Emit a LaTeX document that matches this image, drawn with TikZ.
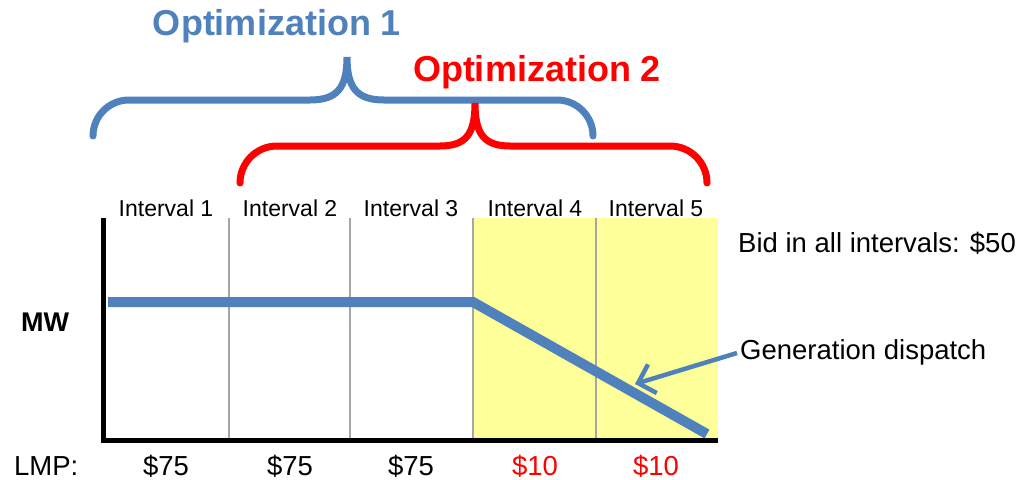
\documentclass[tikz,border=0pt]{standalone}
\usepackage{fontspec}
\setmainfont{Liberation Sans}
\usetikzlibrary{arrows.meta}
\definecolor{oblue}{HTML}{4F81BD}
\definecolor{ored}{HTML}{FF0000}
\definecolor{oyellow}{HTML}{FFFF99}
\definecolor{ogrey}{HTML}{A6A6A6}
\tikzset{
  lbl/.style={inner sep=0pt, font=\fontsize{23}{25}\selectfont},
  big/.style={inner sep=0pt, font=\fontsize{27.5}{30}\selectfont},
  title/.style={inner sep=0pt, font=\fontsize{36}{40}\selectfont\bfseries},
  brace/.style={line width=7pt, line cap=round},
  grid/.style={ogrey, line width=1.5pt},
}
\begin{document}
\begin{tikzpicture}[x=1pt,y=-1pt]
\useasboundingbox (0,0) rectangle (1016,479);
% shaded region
\fill[oyellow] (473,218) rectangle (718,440);
% interval separators
\foreach \x/\n in {229/a,350/b,473/c,596/d}
  \draw[grid] (\x,218) coordinate (\n top) -- (\x,440) coordinate (\n bot);
% axes
\coordinate (otop) at (103,218);
\coordinate (orig) at (103,442.5);
\coordinate (xstart) at (100.5,440);
\coordinate (xend) at (718,440);
\draw[line width=5pt] (otop) -- (orig);
\draw[line width=5pt] (xstart) -- (xend);
% dispatch line
\coordinate (p0) at (108,302);
\coordinate (p1) at (473,302);
\coordinate (p2) at (707,434);
\draw[oblue, line width=10pt] (p0) -- (p1) -- (p2);
% braces
\draw[brace, oblue] (93,136) arc[start angle=180, end angle=270, radius=36] -- (310,100)
  .. controls (337,100) and (347,88) .. (347,57)
  .. controls (347,88) and (357,100) .. (384,100) -- (557,100)
  arc[start angle=270, end angle=360, radius=36];
\draw[brace, ored] (240,183) arc[start angle=180, end angle=270, radius=37] -- (440,146)
  .. controls (466,146) and (475,134) .. (475,103)
  .. controls (475,134) and (484,146) .. (510,146) -- (670,146)
  arc[start angle=270, end angle=360, radius=37];
% titles
\node[title, text=oblue] (opt1) at (277,26) {Optimization 1};
\node[title, text=ored] (opt2) at (537,72) {Optimization 2};
% interval labels
\node[lbl] (i1) at (166,208) {Interval 1};
\node[lbl] (i2) at (290,208) {Interval 2};
\node[lbl] (i3) at (411,208) {Interval 3};
\node[lbl] (i4) at (535,208) {Interval 4};
\node[lbl] (i5) at (656,208) {Interval 5};
% side labels
\node[big, anchor=west] (bid) at (738,243) {Bid in all intervals: \$50};
\node[big, font=\fontsize{27}{30}\selectfont\bfseries] (mw) at (45,322) {MW};
\node[big, anchor=west] (gen) at (740,352) {Generation dispatch};
\coordinate (tip) at (635,384);
\draw[oblue, line width=4.5pt, -{Straight Barb[length=15pt, width=30pt, line width=4.5pt]}] (gen.west) ++(-3,1) -- (tip);
% LMP row
\node[big, anchor=west] (lmp) at (14,466) {LMP:};
\node[big] (l1) at (166,466) {\$75};
\node[big] (l2) at (290,466) {\$75};
\node[big] (l3) at (411,466) {\$75};
\node[big, text=ored] (l4) at (535,466) {\$10};
\node[big, text=ored] (l5) at (656,466) {\$10};
\end{tikzpicture}
\end{document}
